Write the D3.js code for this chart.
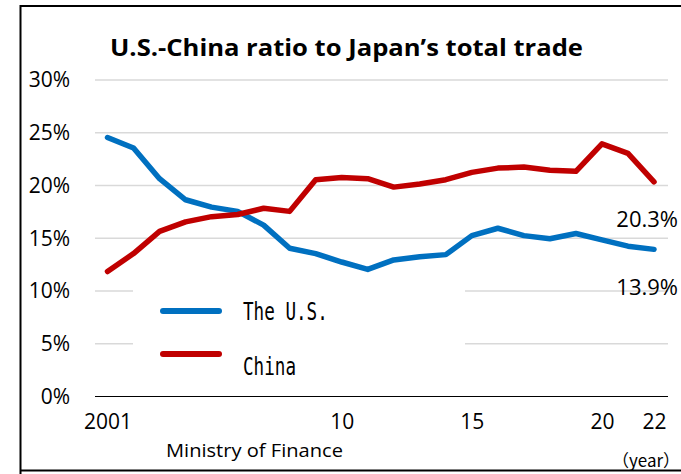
<!DOCTYPE html>
<meta charset="utf-8">
<title>U.S.-China ratio to Japan's total trade</title>
<style>
body { margin: 0; background: #fff; }
svg { display: block; }
text { font-family: "Open Sans", "Liberation Sans", sans-serif; fill: #000; }
</style>
<svg width="681" height="474"></svg>
<script src="https://cdn.jsdelivr.net/npm/d3@7"></script>
<script>

var years = d3.range(2001, 2023);
var usShare = [24.5, 23.5, 20.6, 18.6, 17.9, 17.5, 16.2, 14.0, 13.5, 12.7, 12.0,
               12.9, 13.2, 13.4, 15.2, 15.9, 15.2, 14.9, 15.4, 14.8, 14.2, 13.9];
var chinaShare = [11.8, 13.5, 15.6, 16.5, 17.0, 17.2, 17.8, 17.5, 20.5, 20.7, 20.6,
                  19.8, 20.1, 20.5, 21.2, 21.6, 21.7, 21.4, 21.3, 23.9, 23.0, 20.3];
var yTicks = [0, 5, 10, 15, 20, 25, 30];
var xTicks = [2001, 2010, 2015, 2020, 2022];
var seriesNames = ["The U.S.", "China"];
var seriesColors = ["#0070c0", "#c00000"];

var svg = d3.select("svg");

var x = d3.scaleLinear().domain([2001, 2022]).range([107.5, 654]);
var y = d3.scaleLinear().domain([0, 30]).range([396, 79.5]);

// frame
svg.append("path")
    .attr("d", "M20.5,474 V6 H681 M20,470.5 H681")
    .attr("fill", "none")
    .attr("stroke", "#000")
    .attr("stroke-width", 2);

// title
svg.append("text")
    .attr("x", 110).attr("y", 56)
    .attr("textLength", 473)
    .attr("lengthAdjust", "spacingAndGlyphs")
    .style("font-size", "24px")
    .style("font-weight", "bold")
    .text("U.S.-China ratio to Japan\u2019s total trade");

// gridlines
svg.append("g")
  .selectAll("line")
    .data(yTicks)
  .enter().append("line")
    .attr("x1", 95).attr("x2", 668)
    .attr("y1", function(d) { return y(d) + 0.5; })
    .attr("y2", function(d) { return y(d) + 0.5; })
    .attr("stroke", function(d) { return d === 0 ? "#000" : "#d9d9d9"; })
    .attr("stroke-width", function(d) { return d === 0 ? 1 : 1.5; });

// y axis labels
var yAxis = svg.append("g")
    .attr("transform", "translate(95,0)")
    .call(d3.axisLeft(y).tickValues(yTicks).tickSize(0).tickPadding(25)
      .tickFormat(function(d) { return d + "%"; }));
yAxis.select(".domain").remove();
yAxis.attr("font-family", null).attr("font-size", null);
yAxis.selectAll("text")
    .attr("dy", "0.35em")
    .style("font-size", "21px");

// x axis labels
var xAxis = svg.append("g")
    .attr("transform", "translate(0,396)")
    .call(d3.axisBottom(x).tickValues(xTicks).tickSize(0)
      .tickFormat(function(d) { return d === 2001 ? "2001" : String(d % 100); }));
xAxis.select(".domain").remove();
xAxis.attr("font-family", null).attr("font-size", null);
xAxis.selectAll("text")
    .attr("y", 33).attr("dy", null)
    .style("font-size", "21px");

// legend backdrop
svg.append("rect")
    .attr("x", 133).attr("y", 278)
    .attr("width", 332).attr("height", 100)
    .attr("fill", "#fff");

// lines
var line = d3.line()
    .x(function(d, i) { return x(years[i]); })
    .y(function(d) { return y(d); });

[usShare, chinaShare].forEach(function(s, k) {
  svg.append("path")
      .datum(s)
      .attr("d", line)
      .attr("fill", "none")
      .attr("stroke", seriesColors[k])
      .attr("stroke-width", 5.5)
      .attr("stroke-linejoin", "round")
      .attr("stroke-linecap", "round");
});

// end labels
svg.append("text")
    .attr("x", 678).attr("y", 227)
    .attr("text-anchor", "end")
    .style("font-size", "22px")
    .text(chinaShare[chinaShare.length - 1].toFixed(1) + "%");
svg.append("text")
    .attr("x", 678).attr("y", 295)
    .attr("text-anchor", "end")
    .style("font-size", "22px")
    .text(usShare[usShare.length - 1].toFixed(1) + "%");

// legend
var legend = svg.append("g")
  .selectAll("g")
    .data(seriesNames)
  .enter().append("g")
    .attr("transform", function(d, i) { return "translate(0," + (i * 43) + ")"; });

legend.append("line")
    .attr("x1", 163).attr("x2", 219)
    .attr("y1", 311).attr("y2", 311)
    .attr("stroke", function(d, i) { return seriesColors[i]; })
    .attr("stroke-width", 6)
    .attr("stroke-linecap", "round");

legend.append("text")
    .attr("x", 243)
    .attr("y", function(d, i) { return i === 0 ? 320 : 332; })
    .attr("textLength", function(d) { return d.length * 10.6; })
    .attr("lengthAdjust", "spacingAndGlyphs")
    .style("font-family", "'DejaVu Sans Mono', monospace")
    .style("font-size", "24px")
    .text(function(d) { return d; });

// source and unit
svg.append("text")
    .attr("x", 166).attr("y", 457)
    .attr("textLength", 177)
    .attr("lengthAdjust", "spacingAndGlyphs")
    .style("font-size", "19px")
    .text("Ministry of Finance");

svg.append("text")
    .attr("x", 612).attr("y", 467)
    .style("font-family", "'Noto Sans CJK JP', 'Open Sans', sans-serif")
    .style("font-size", "17px")
    .text("\uff08year\uff09");

</script>
